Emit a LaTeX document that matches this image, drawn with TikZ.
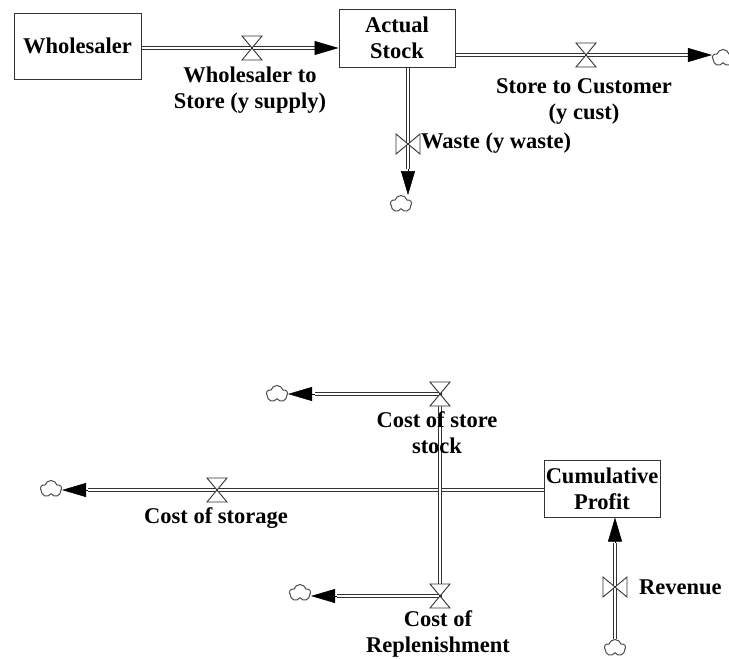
\documentclass[tikz,border=0pt]{standalone}
\usepackage{fontspec}
\setmainfont{Liberation Serif}
\usetikzlibrary{arrows.meta,shapes.symbols}
\tikzset{
  valveh/.pic={\draw[black!80, line width=0.9pt, fill=white, line join=miter] (-10,-12) -- (10,-12) -- (-10,12) -- (10,12) -- cycle;},
  valvev/.pic={\draw[black!80, line width=0.9pt, fill=white, line join=miter] (-12,-10) -- (-12,10) -- (12,-10) -- (12,10) -- cycle;}
}
\begin{document}
\begin{tikzpicture}[x=1pt,y=-1pt,
  box/.style={draw=black!80, line width=1pt, align=center, inner sep=0pt,
    font=\bfseries\fontsize{22.5}{26}\selectfont},
  lbl/.style={align=center, inner sep=0pt, font=\bfseries\fontsize{22.5}{26}\selectfont},
  pipe/.style={draw=black!80, line width=1pt, double=white, double distance=2.6pt, line join=miter},
  tip/.style={-{Triangle[length=24pt,width=14pt]}, line width=0.5pt, black},
  cloudn/.style={cloud, cloud puffs=5, cloud puff arc=150, draw=black!70, line width=1pt, minimum width=21pt, minimum height=17pt, inner sep=0pt},
]
\useasboundingbox (0,0) rectangle (729,659);

% stocks
\node[box, minimum width=127pt, minimum height=66pt] (Wholesaler) at (77.5,46) {Wholesaler};
\node[box, minimum width=116pt, minimum height=58pt] (Stock) at (397,38) {Actual\\Stock};
\node[box, minimum width=116pt, minimum height=57pt] (Profit) at (602,488.5) {Cumulative\\Profit};

% clouds
\node[cloudn] (c2) at (723,58) {};
\node[cloudn] (c3) at (401,204) {};
\node[cloudn] (c4) at (51,489) {};
\node[cloudn] (c5) at (277,394) {};
\node[cloudn] (c6) at (300,593) {};
\node[cloudn] (c7) at (615,648) {};

% valve / arrow-base coordinates
\coordinate (v1) at (252,48);  \coordinate (a1) at (316,48);
\coordinate (v2) at (586,55);  \coordinate (a2) at (688,55);
\coordinate (v3) at (408,144); \coordinate (a3) at (408,169);
\coordinate (j)  at (440,490);
\coordinate (v4) at (217,490); \coordinate (a4) at (88,490);
\coordinate (v5) at (440,394); \coordinate (a5) at (315,394);
\coordinate (v6) at (440,596); \coordinate (a6) at (337,596);
\coordinate (v7) at (615,587); \coordinate (a7) at (615,543);

% pipes
\draw[pipe] (Wholesaler.east |- v1) -- (a1);
\draw[pipe] (Stock.east |- v2) -- (a2);
\draw[pipe] (Stock.south -| v3) -- (a3);
\draw[pipe] (Profit.west |- j) -- (a4);
\draw[pipe] (j) -- (v5) -- (a5);
\draw[pipe] (j) -- (v6) -- (a6);
\draw[pipe] (c7.north -| v7) -- (a7);

% arrow heads
\draw[tip] (a1) -- (Stock.west |- v1);
\draw[tip] (a2) -- (c2.west |- v2);
\draw[tip] (a3) -- (v3 |- c3.north);
\draw[tip] (a4) -- (c4.east |- j);
\draw[tip] (a5) -- (c5.east |- v5);
\draw[tip] (a6) -- (c6.east |- v6);
\draw[tip] (a7) -- (Profit.south -| v7);

% valves
\pic at (v1) {valveh};
\pic at (v2) {valveh};
\pic at (v3) {valvev};
\pic at (v4) {valveh};
\pic at (v5) {valveh};
\pic at (v6) {valveh};
\pic at (v7) {valvev};

% labels
\node[lbl] (l1) at (250,90) {Wholesaler to\\Store (y supply)};
\node[lbl] (l2) at (584,101) {Store to Customer\\(y cust)};
\node[lbl, anchor=west] (l3) at (421,143) {Waste (y waste)};
\node[lbl] (l4) at (216,518) {Cost of storage};
\node[lbl] (l5) at (437,433) {Cost of store\\stock};
\node[lbl] (l6) at (438,634) {Cost of\\Replenishment};
\node[lbl, anchor=west] (l7) at (639,587) {Revenue};
\end{tikzpicture}
\end{document}
